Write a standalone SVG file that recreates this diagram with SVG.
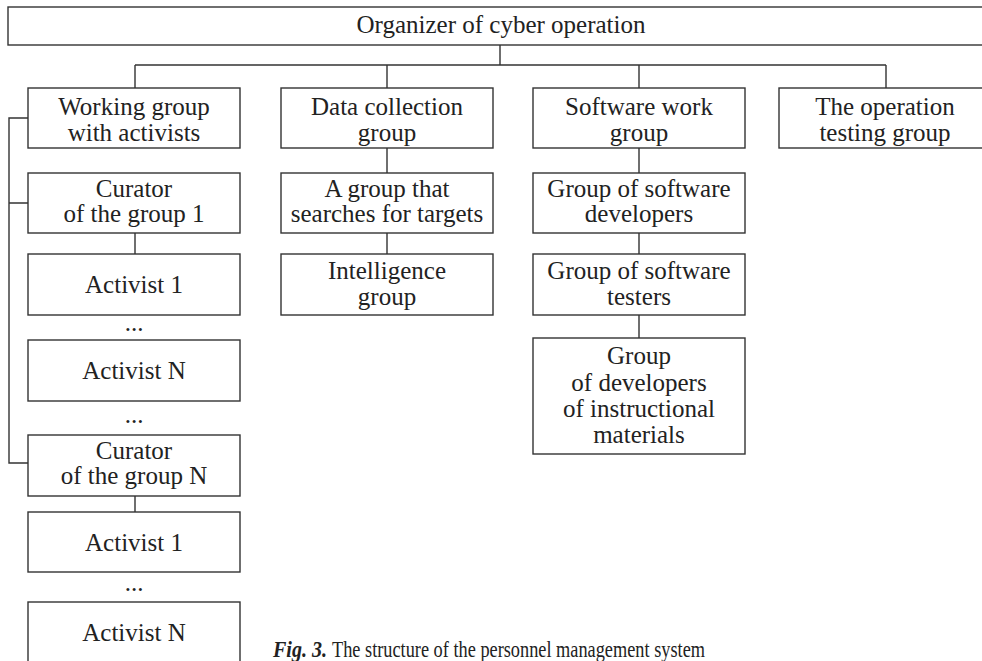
<svg xmlns="http://www.w3.org/2000/svg" width="982" height="661" viewBox="0 0 982 661">
<style>
.box{fill:#fff;stroke:#333;stroke-width:1.4}
.ln{fill:none;stroke:#333;stroke-width:1.4}
text{font-family:"Liberation Serif","DejaVu Serif",serif;font-size:25px;fill:#222;text-anchor:middle}
.cap{text-anchor:start;font-size:23px}
.fig{font-weight:bold;font-style:italic}
</style>
<rect width="982" height="661" fill="#fff"/>
<g id="connectors" class="ln">
<path d="M500 45V65M135 65H886M135 65V88M387 65V88M639 65V88M886 65V88"/>
<path d="M28 118H9V463H28M9 203H28"/>
<path d="M135 233V254M135 496V512"/>
<path d="M387 148V173M387 233V254"/>
<path d="M639 148V173M639 233V254M639 315V338"/>
</g>
<g id="organizer"><rect class="box" x="8" y="7" width="990" height="38"/><text x="501" y="33">Organizer of cyber operation</text></g>
<g id="working"><rect class="box" x="28" y="88" width="212" height="60"/><text x="134" y="115">Working group</text><text x="134" y="141">with activists</text></g>
<g id="datacollection"><rect class="box" x="281" y="88" width="212" height="60"/><text x="387" y="115">Data collection</text><text x="387" y="141">group</text></g>
<g id="software"><rect class="box" x="533" y="88" width="212" height="60"/><text x="639" y="115">Software work</text><text x="639" y="141">group</text></g>
<g id="testing"><rect class="box" x="779" y="88" width="214" height="60"/><text x="885" y="115">The operation</text><text x="885" y="141">testing group</text></g>
<g id="curator1"><rect class="box" x="28" y="173" width="212" height="60"/><text x="134" y="197">Curator</text><text x="134" y="222">of the group 1</text></g>
<g id="activist1a"><rect class="box" x="28" y="254" width="212" height="61"/><text x="134" y="293">Activist 1</text></g>
<text x="134" y="331">...</text>
<g id="activistNa"><rect class="box" x="28" y="340" width="212" height="61"/><text x="134" y="379">Activist N</text></g>
<text x="134" y="423">...</text>
<g id="curatorN"><rect class="box" x="28" y="435" width="212" height="61"/><text x="134" y="459">Curator</text><text x="134" y="484">of the group N</text></g>
<g id="activist1b"><rect class="box" x="28" y="512" width="212" height="60"/><text x="134" y="551">Activist 1</text></g>
<text x="134" y="591">...</text>
<g id="activistNb"><rect class="box" x="28" y="602" width="212" height="70"/><text x="134" y="641">Activist N</text></g>
<g id="searchers"><rect class="box" x="281" y="173" width="212" height="60"/><text x="387" y="197">A group that</text><text x="387" y="222">searches for targets</text></g>
<g id="intelligence"><rect class="box" x="281" y="254" width="212" height="61"/><text x="387" y="279">Intelligence</text><text x="387" y="305">group</text></g>
<g id="developers"><rect class="box" x="533" y="173" width="212" height="60"/><text x="639" y="197">Group of software</text><text x="639" y="222">developers</text></g>
<g id="testers"><rect class="box" x="533" y="254" width="212" height="61"/><text x="639" y="279">Group of software</text><text x="639" y="305">testers</text></g>
<g id="instructional"><rect class="box" x="533" y="338" width="212" height="116"/><text x="639" y="364">Group</text><text x="639" y="391">of developers</text><text x="639" y="417">of instructional</text><text x="639" y="443">materials</text></g>
<text class="cap fig" x="273" y="657" textLength="54" lengthAdjust="spacingAndGlyphs">Fig. 3.</text>
<text class="cap" x="332" y="657" textLength="373" lengthAdjust="spacingAndGlyphs">The structure of the personnel management system</text>
</svg>
